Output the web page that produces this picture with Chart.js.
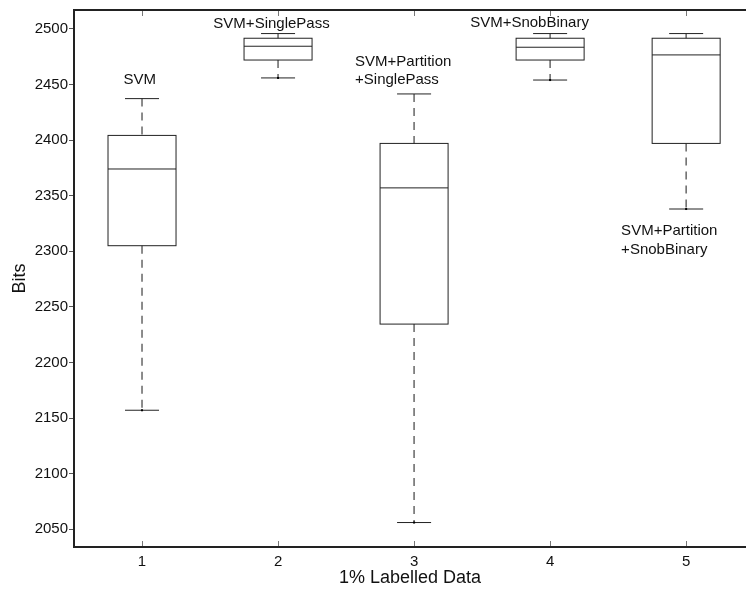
<!DOCTYPE html>
<html>
<head>
<meta charset="utf-8">
<script src="https://cdn.jsdelivr.net/npm/chart.js@4/dist/chart.umd.min.js"></script>
<style>
  body { margin: 0; background: #fff; }
  #wrap { position: relative; width: 746px; height: 589px; }
</style>
</head>
<body>
<div id="wrap"><canvas id="chart"></canvas></div>
<script>
// box plot values, one per group
const groups = [1, 2, 3, 4, 5];
const whiskerHigh = [2437.3, 2495.8, 2441.5, 2495.8, 2495.8];
const q3 = [2404.2, 2491.6, 2397, 2491.6, 2491.6];
const median = [2374, 2484.4, 2357, 2483.5, 2476.6];
const q1 = [2305, 2472, 2234.5, 2472, 2397];
const whiskerLow = [2157, 2455.9, 2056, 2454, 2338];

// text labels placed in data space
const labelText = [
  ["SVM"],
  ["SVM+SinglePass"],
  ["SVM+Partition", "+SinglePass"],
  ["SVM+SnobBinary"],
  ["SVM+Partition", "+SnobBinary"],
];
const labelX = [0.983, 1.952, 2.566, 3.412, 4.522];
const labelY = [2453.9, 2504.9, 2470.8, 2505, 2318.5];
const labelAlign = ["center", "center", "left", "left", "left"];

const FONT = "'Liberation Sans', Arial, sans-serif";

const boxPlugin = {
  id: "boxes",
  afterDraw(chart) {
    const ctx = chart.ctx;
    const xs = chart.scales.x;
    const ys = chart.scales.y;
    const area = chart.chartArea;
    const boxHalf = 0.25;
    const capHalf = 0.125;

    ctx.save();
    ctx.lineWidth = 1;
    groups.forEach((g, i) => {
      const cx = xs.getPixelForValue(g);
      const bl = xs.getPixelForValue(g - boxHalf);
      const br = xs.getPixelForValue(g + boxHalf);
      const cl = xs.getPixelForValue(g - capHalf);
      const cr = xs.getPixelForValue(g + capHalf);
      const yHi = ys.getPixelForValue(whiskerHigh[i]);
      const yQ3 = ys.getPixelForValue(q3[i]);
      const yMed = ys.getPixelForValue(median[i]);
      const yQ1 = ys.getPixelForValue(q1[i]);
      const yLo = ys.getPixelForValue(whiskerLow[i]);

      // dashed whiskers
      ctx.strokeStyle = "#666";
      ctx.lineWidth = 1.5;
      ctx.setLineDash([8, 6]);
      ctx.beginPath();
      ctx.moveTo(cx, yHi);
      ctx.lineTo(cx, yQ3);
      ctx.moveTo(cx, yQ1);
      ctx.lineTo(cx, yLo);
      ctx.stroke();
      ctx.setLineDash([]);

      // box, median, caps
      ctx.strokeStyle = "#222";
      ctx.lineWidth = 1;
      ctx.strokeRect(bl, yQ3, br - bl, yQ1 - yQ3);
      ctx.beginPath();
      ctx.moveTo(bl, yMed);
      ctx.lineTo(br, yMed);
      ctx.moveTo(cl, yHi);
      ctx.lineTo(cr, yHi);
      ctx.moveTo(cl, yLo);
      ctx.lineTo(cr, yLo);
      ctx.stroke();

      ctx.fillStyle = "#000";
      ctx.fillRect(cx - 1, yLo - 1, 2, 2);
    });

    // top border and inward x ticks
    ctx.strokeStyle = "#222";
    ctx.lineWidth = 2;
    ctx.beginPath();
    ctx.moveTo(area.left, area.top);
    ctx.lineTo(area.right, area.top);
    ctx.stroke();
    ctx.strokeStyle = "#777";
    ctx.lineWidth = 1;
    ctx.beginPath();
    xs.ticks.forEach(t => {
      const px = Math.round(xs.getPixelForValue(t.value)) + 0.5;
      ctx.moveTo(px, area.bottom - 1);
      ctx.lineTo(px, area.bottom - 6);
      ctx.moveTo(px, area.top + 1);
      ctx.lineTo(px, area.top + 6);
    });
    ctx.stroke();

    // group labels
    ctx.fillStyle = "#111";
    ctx.font = "15px " + FONT;
    ctx.textBaseline = "middle";
    labelText.forEach((lines, i) => {
      const px = xs.getPixelForValue(labelX[i]);
      const py = ys.getPixelForValue(labelY[i]);
      ctx.textAlign = labelAlign[i];
      lines.forEach((s, k) => ctx.fillText(s, px, py + k * 18.8));
    });
    ctx.restore();
  },
};

new Chart(document.getElementById("chart"), {
  type: "scatter",
  data: { datasets: [] },
  options: {
    responsive: true,
    maintainAspectRatio: false,
    animation: false,
    layout: { padding: { top: 10, right: 0, left: 0, bottom: 0 } },
    plugins: {
      legend: { display: false },
      tooltip: { enabled: false },
    },
    scales: {
      x: {
        type: "linear",
        min: 0.5,
        max: 5.44,
        afterFit: (s) => { s.height = 42; },
        ticks: {
          stepSize: 1,
          includeBounds: false,
          color: "#111",
          font: { size: 15, family: FONT },
          padding: 6,
          callback: (v) => String(v),
        },
        grid: { display: true, drawOnChartArea: false, drawTicks: false },
        border: { color: "#222", width: 2 },
        title: {
          display: true,
          text: "1% Labelled Data",
          color: "#111",
          font: { size: 18, family: FONT },
          padding: { top: 0, bottom: 0 },
        },
      },
      y: {
        type: "linear",
        min: 2034,
        max: 2517,
        afterFit: (s) => { s.width = 74; },
        ticks: {
          stepSize: 50,
          includeBounds: false,
          color: "#111",
          font: { size: 15, family: FONT },
          padding: 1,
          callback: (v) => String(v),
        },
        grid: {
          display: true,
          drawOnChartArea: false,
          drawTicks: true,
          tickLength: 5,
          color: "#555",
        },
        border: { color: "#222", width: 2 },
        title: {
          display: true,
          text: "Bits",
          color: "#111",
          font: { size: 18, family: FONT },
          padding: { top: 9, bottom: 0 },
        },
      },
    },
  },
  plugins: [boxPlugin],
});
</script>
</body>
</html>
